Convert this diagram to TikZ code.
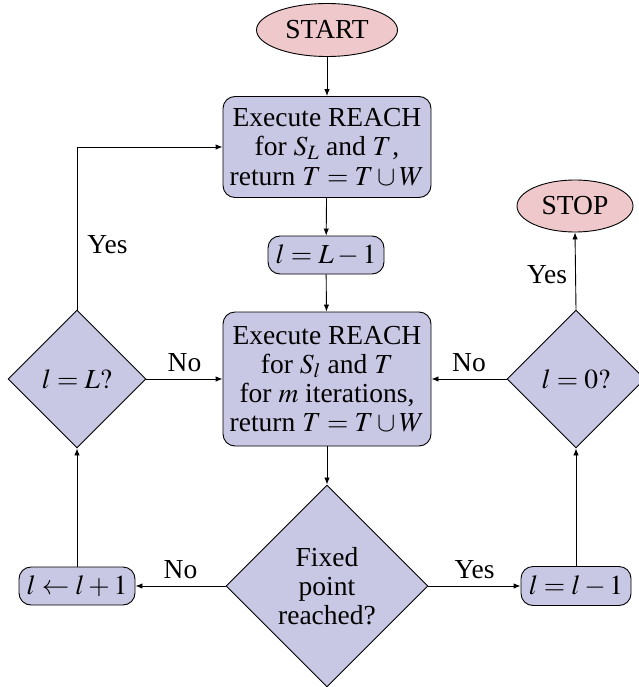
\documentclass[tikz,border=0pt]{standalone}
\usepackage{mathptmx}
\usepackage[no-math]{fontspec}
\setmainfont{Liberation Serif}
\usetikzlibrary{shapes.geometric,arrows.meta}

\definecolor{procfill}{RGB}{200,200,228}
\definecolor{termfill}{RGB}{238,200,202}

\tikzset{
  base/.style={draw=black, line width=0.9pt, inner sep=0pt, align=center,
    font=\rmfamily\fontsize{27.5}{29.2}\selectfont},
  terminal/.style={base, ellipse, fill=termfill},
  process/.style={base, rectangle, rounded corners=12pt, fill=procfill},
  decision/.style={base, diamond, fill=procfill, aspect=1},
  flow/.style={line width=0.9pt, -{Latex[length=7pt,width=5.5pt]}},
  lbl/.style={font=\rmfamily\fontsize{27.5}{29.2}\selectfont, inner sep=0pt}
}

\begin{document}
\begin{tikzpicture}[x=1pt,y=-1pt]
  \useasboundingbox (0,0) rectangle (638,687);

  % terminals
  \node[terminal, minimum width=141pt, minimum height=53pt] (start) at (327,30) {START};
  \node[terminal, minimum width=116pt, minimum height=52pt] (stop) at (575,206) {STOP};

  % processes
  \node[process, minimum width=208pt, minimum height=101pt] (reachA) at (327,147)
    {Execute REACH\\for $S_L$ and $T$\kern1pt,\\return $T=T\cup W$};
  \node[process, minimum width=116pt, minimum height=38pt] (setL) at (326,255) {$l=L-1$};
  \node[process, minimum width=208pt, minimum height=134pt] (reachB) at (327,379)
    {Execute REACH\\for $S_l$ and $T$\\for $m$ iterations,\\return $T=T\cup W$};
  \node[process, minimum width=116pt, minimum height=38pt] (inc) at (77,586) {$l\leftarrow l+1$};
  \node[process, minimum width=110pt, minimum height=39pt] (dec) at (576,586) {$l=l-1$};

  % decisions
  \node[decision, minimum width=202pt, minimum height=202pt] (fixed) at (327,586)
    {Fixed\\point\\reached?};
  \node[decision, minimum width=138pt, minimum height=138pt] (isL) at (77,379) {$l=L?$};
  \node[decision, minimum width=138pt, minimum height=138pt] (isZero) at (576,379) {$l=0?$};

  % main flow
  \draw[flow] (start) -- (reachA);
  \draw[flow] (reachA) -- (setL);
  \draw[flow] (setL) -- (reachB);
  \draw[flow] (reachB) -- (fixed);

  % fixed point test
  \draw[flow] (fixed.west) -- node[lbl, above=7pt] (noFix) {No} (inc.east);
  \draw[flow] (fixed.east) -- node[lbl, above=7pt] (yesFix) {Yes} (dec.west);

  % left loop
  \draw[flow] (inc.north) -- (isL.south);
  \draw[flow] (isL.east) -- node[lbl, above=7pt] (noL) {No} (reachB.west);
  \draw[flow] (isL.north) |- node[lbl, right=10pt, pos=0.2] (yesL) {Yes} (reachA.west);

  % right loop
  \draw[flow] (dec.north) -- (isZero.south);
  \draw[flow] (isZero.west) -- node[lbl, above=7pt] (noZero) {No} (reachB.east);
  \draw[flow] (isZero.north) -- node[lbl, left=8pt, pos=0.45] (yesZero) {Yes} (stop.south);
\end{tikzpicture}
\end{document}
